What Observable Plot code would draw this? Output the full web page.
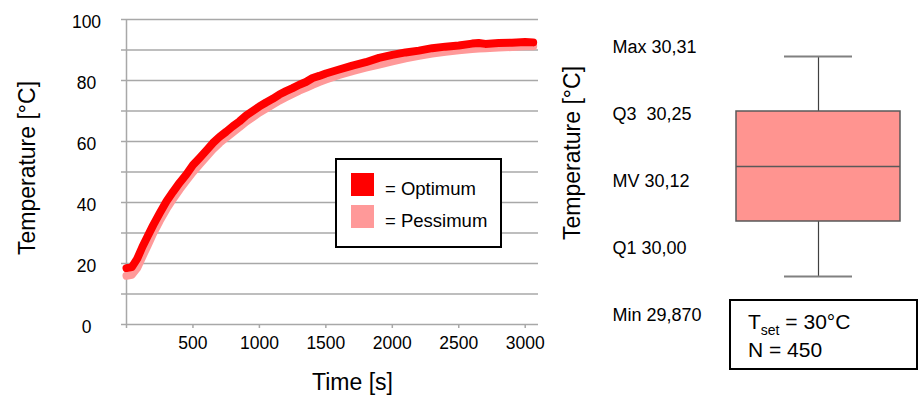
<!DOCTYPE html>
<html>
<head>
<meta charset="utf-8">
<script src="https://cdn.jsdelivr.net/npm/d3@7"></script>
<script src="https://cdn.jsdelivr.net/npm/@observablehq/plot@0.6"></script>
<style>
  html, body { margin: 0; padding: 0; background: #fff; }
  #wrap { position: relative; width: 920px; height: 404px; font-family: "Liberation Sans", Arial, sans-serif; color: #000; overflow: hidden; }
  #wrap > svg, #wrap > figure { position: absolute; margin: 0; }
  .legend { position: absolute; left: 335px; top: 158px; width: 167px; height: 90px; border: 2px solid #000; box-sizing: border-box; background: #fff; }
  .legend .sw { position: absolute; width: 23px; height: 23px; left: 14px; }
  .legend .lb { position: absolute; left: 48px; font-size: 18.5px; line-height: 20px; white-space: pre; }
  .tset { position: absolute; left: 729px; top: 299px; width: 189px; height: 71px; border: 2px solid #000; box-sizing: border-box; font-size: 21px; line-height: 26px; padding: 8px 0 0 17px; background: #fff; }
  .tset sub { font-size: 14px; vertical-align: baseline; position: relative; top: 6px; }
</style>
</head>
<body>
<div id="wrap"></div>
<script>
// ---- Data ----
const times = [0, 40, 80, 120, 160, 200, 250, 300, 350, 400, 450, 500, 550, 600, 650, 700, 750, 800, 850, 900, 950, 1000, 1050, 1100, 1150, 1200, 1250, 1300, 1350, 1400, 1450, 1500, 1600, 1700, 1800, 1900, 2000, 2100, 2200, 2300, 2400, 2500, 2600, 2650, 2700, 2800, 2900, 3000, 3060];
const optimum = [18.5, 18.8, 21.5, 25.5, 29.0, 32.5, 36.5, 40.3, 43.5, 46.5, 49.2, 52.3, 54.6, 57.0, 59.5, 61.5, 63.2, 65.0, 66.6, 68.5, 70.0, 71.5, 72.8, 74.0, 75.4, 76.5, 77.5, 78.6, 79.5, 80.8, 81.5, 82.3, 83.6, 84.9, 86.0, 87.4, 88.4, 89.2, 89.8, 90.6, 91.1, 91.5, 92.1, 92.3, 92.0, 92.3, 92.4, 92.6, 92.5];
const pessimum = [16.0, 16.3, 18.5, 22.3, 26.0, 29.8, 34.0, 37.8, 41.2, 44.3, 47.2, 50.0, 52.5, 55.0, 57.4, 59.5, 61.3, 63.0, 64.7, 66.5, 68.0, 69.5, 70.8, 72.1, 73.4, 74.5, 75.6, 76.7, 77.6, 78.6, 79.5, 80.3, 81.8, 83.1, 84.2, 85.2, 86.3, 87.3, 88.1, 88.8, 89.4, 89.9, 90.3, 90.5, 90.6, 90.8, 91.0, 91.2, 91.2];
const xTicks = [0, 500, 1000, 1500, 2000, 2500, 3000];
const yGridTicks = [0, 10, 20, 30, 40, 50, 60, 70, 80, 90, 100];
const yLabelTicks = [0, 20, 40, 60, 80, 100];
const seriesNames = ["Optimum", "Pessimum"];
const seriesColors = ["#ff0000", "#ff9999"];
const legendLabels = ["= Optimum", "= Pessimum"];
const statNames = ["Max", "Q3", "MV", "Q1", "Min"];
const statLabels = ["Max 30,31", "Q3\u00a0 30,25", "MV 30,12", "Q1 30,00", "Min 29,870"];
const tsetText = ["T", "set", " = 30°C", "N = 450"];

// ---- Build tables ----
const optData = times.map((t, i) => ({t, v: optimum[i]}));
const pesData = times.map((t, i) => ({t, v: pessimum[i]}));
const whiskers = [{from: statNames[0], to: statNames[1]}, {from: statNames[3], to: statNames[4]}];
const boxData = [{from: statNames[1], to: statNames[3]}];

const font = "'Liberation Sans', Arial, sans-serif";
const gridColor = "#a8a8a8";
const wrap = document.getElementById("wrap");

// ---- Left line chart ----
const left = Plot.plot({
  width: 560, height: 404,
  marginLeft: 126, marginRight: 22, marginTop: 19, marginBottom: 80,
  x: {domain: [0, 3100], label: null},
  y: {domain: [0, 100], label: null},
  style: {fontFamily: font, fontSize: "17.5px", background: "transparent", overflow: "visible", color: "#000"},
  marks: [
    Plot.gridY({ticks: yGridTicks, stroke: gridColor, strokeOpacity: 1, strokeWidth: 1.5}),
    Plot.axisY({ticks: yGridTicks, tickSize: 5, tickFormat: () => "", stroke: gridColor, strokeWidth: 1.5, label: null}),
    Plot.ruleX([0], {stroke: gridColor, strokeWidth: 1.5}),
    Plot.axisX({ticks: xTicks, tickSize: 4, tickPadding: 8, tickFormat: d => d === 0 ? "" : String(d), stroke: gridColor, strokeWidth: 1.5, label: null}),
    Plot.text(yLabelTicks, {y: d => d, text: d => String(d), frameAnchor: "left", dx: -40, dy: 3, textAnchor: "middle"}),
    Plot.line(pesData, {x: "t", y: "v", stroke: seriesColors[1], strokeWidth: 8, strokeLinejoin: "round"}),
    Plot.line(optData, {x: "t", y: "v", stroke: seriesColors[0], strokeWidth: 8, strokeLinejoin: "round"}),
    Plot.text(["Time [s]"], {frameAnchor: "bottom", textAnchor: "middle", dx: 20, dy: 65, fontSize: 23}),
    Plot.text(["Temperature [°C]"], {frameAnchor: "left", textAnchor: "middle", rotate: -90, dx: -99, dy: -4, fontSize: 23})
  ]
});
left.style.left = "0px"; left.style.top = "0px";
wrap.appendChild(left);

// ---- Legend ----
const legend = document.createElement("div");
legend.className = "legend";
seriesNames.forEach((name, i) => {
  const sw = document.createElement("div");
  sw.className = "sw";
  sw.style.top = (13 + 32 * i) + "px";
  sw.style.background = seriesColors[i];
  legend.appendChild(sw);
  const lb = document.createElement("div");
  lb.className = "lb";
  lb.style.top = (18.5 + 32 * i) + "px";
  lb.textContent = legendLabels[i];
  legend.appendChild(lb);
});
wrap.appendChild(legend);

// ---- Right: statistic labels ----
const labels = Plot.plot({
  width: 180, height: 404,
  marginLeft: 0, marginRight: 0, marginTop: 46, marginBottom: 89,
  x: {axis: null},
  y: {type: "point", domain: statNames, padding: 0, axis: null},
  style: {fontFamily: font, fontSize: "18px", background: "transparent", overflow: "visible", color: "#000"},
  marks: [
    Plot.text(statNames, {y: d => d, text: (d, i) => statLabels[i], frameAnchor: "left", dx: 72, textAnchor: "start", fontSize: 18}),
    Plot.text(["Temperature [°C]"], {frameAnchor: "left", textAnchor: "middle", rotate: -90, dx: 32, dy: -28, fontSize: 23})
  ]
});
labels.style.left = "540px"; labels.style.top = "0px";
wrap.appendChild(labels);

// ---- Right: box plot ----
const box = Plot.plot({
  width: 170, height: 404,
  marginLeft: 3, marginRight: 3, marginTop: 56, marginBottom: 128,
  y: {type: "point", domain: statNames, padding: 0, axis: null},
  style: {fontFamily: font, background: "transparent", overflow: "visible"},
  marks: [
    Plot.ruleX(whiskers, {x: null, y1: "from", y2: "to", stroke: "#404040", strokeWidth: 1.2}),
    Plot.ruleY([statNames[0], statNames[4]], {y: d => d, insetLeft: 48, insetRight: 48, stroke: "#808080", strokeWidth: 2}),
    Plot.rect(boxData, {y1: "from", y2: "to", fill: "#ff9490", stroke: "#595959", strokeWidth: 1.5}),
    Plot.ruleY([statNames[2]], {y: d => d, stroke: "#595959", strokeWidth: 1.5})
  ]
});
box.style.left = "733px"; box.style.top = "0px";
wrap.appendChild(box);

// ---- T_set annotation ----
const tset = document.createElement("div");
tset.className = "tset";
tset.append(tsetText[0]);
const sub = document.createElement("sub");
sub.textContent = tsetText[1];
tset.append(sub, tsetText[2], document.createElement("br"), tsetText[3]);
wrap.appendChild(tset);
</script>
</body>
</html>
